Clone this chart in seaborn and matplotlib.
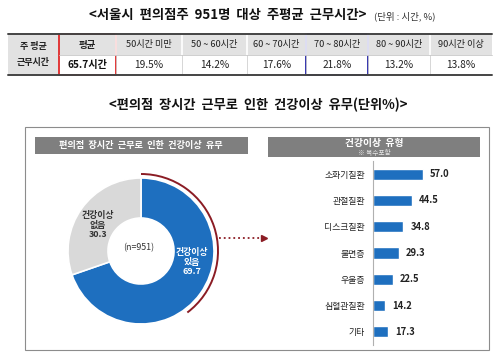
import numpy as np
import pandas as pd
import matplotlib.pyplot as plt
from matplotlib.patches import Rectangle, Arc
import seaborn as sns

# data
time_bins = ['50시간 미만', '50 ~ 60시간', '60 ~ 70시간', '70 ~ 80시간', '80 ~ 90시간', '90시간 이상']
time_shares = [19.5, 14.2, 17.6, 21.8, 13.2, 13.8]
avg_hours = 65.7

health_labels = ['건강이상\n있음', '건강이상\n없음']
health_values = [69.7, 30.3]
n_total = 951

issue_names = ['소화기질환', '관절질환', '디스크질환', '불면증', '우울증', '심혈관질환', '기타']
issue_values = [57.0, 44.5, 34.8, 29.3, 22.5, 14.2, 17.3]

BLUE = '#1e6fbf'
GRAY = '#d9d9d9'
DARKRED = '#8b1c24'
W, H = 499, 360

sns.set_style('white')
plt.rcParams['font.family'] = ['Noto Sans CJK KR', 'DejaVu Sans']


def px(x0, y0, x1, y1):
    return [x0 / W, 1 - y1 / H, (x1 - x0) / W, (y1 - y0) / H]


fig = plt.figure(figsize=(W / 100, H / 100), dpi=100)
bg = fig.add_axes([0, 0, 1, 1])
bg.set_xlim(0, W)
bg.set_ylim(H, 0)
bg.axis('off')

# titles
bg.text(89, 15, '<서울시  편의점주  951명  대상  주평균  근무시간>', fontsize=9.6,
        fontweight='bold', ha='left', va='center', color='#111111')
bg.text(374, 16, '(단위 : 시간, %)', fontsize=6.8, ha='left', va='center', color='#333333')

# table
edges = [8, 59, 116, 182, 247, 306, 368, 430, 492]
top, mid, bot = 34, 55, 75
bg.add_patch(Rectangle((edges[0], top), edges[1] - edges[0], bot - top, color='#e2e2e2', lw=0))
bg.add_patch(Rectangle((edges[1], top), edges[-1] - edges[1], mid - top, color='#e2e2e2', lw=0))
for x in edges[2:-1]:
    bg.plot([x, x], [top, mid], color='white', lw=1.2)
    bg.plot([x, x], [mid, bot], color='#d0d0d0', lw=0.6)
bg.plot([edges[1], edges[-1]], [mid, mid], color='#c8c8c8', lw=0.6)
bg.plot([edges[0], edges[-1]], [top, top], color='#444444', lw=1.4)
bg.plot([edges[0], edges[-1]], [bot, bot], color='#444444', lw=1.4)

bg.text(33, 47, '주 평균', fontsize=6.5, fontweight='bold', ha='center', va='center', color='#222222')
bg.text(33, 62, '근무시간', fontsize=6.5, fontweight='bold', ha='center', va='center', color='#222222')
cx = (edges[1] + edges[2]) / 2
bg.text(cx, 45, '평균', fontsize=6.8, fontweight='bold', ha='center', va='center', color='#222222')
bg.text(cx, 65, f'{avg_hours}시간', fontsize=7.3, fontweight='bold', ha='center', va='center', color='#111111')
for i, (lab, val) in enumerate(zip(time_bins, time_shares)):
    cx = (edges[i + 2] + edges[i + 3]) / 2
    bg.text(cx, 45, lab, fontsize=6.6, ha='center', va='center', color='#222222')
    bg.text(cx, 65, f'{val}%', fontsize=7.3, ha='center', va='center', color='#222222')

bg.add_patch(Rectangle((edges[1], top), edges[2] - edges[1], bot - top, fill=False,
                       edgecolor='#e02828', lw=1.3))
bg.add_patch(Rectangle((edges[5], top), edges[6] - edges[5], bot - top, fill=False,
                       edgecolor='#2424a8', lw=1.3))

# second title
bg.text(258, 105, '<편의점  장시간  근무로  인한  건강이상  유무(단위%)>', fontsize=9.5,
        fontweight='bold', ha='center', va='center', color='#111111')

# panel frame and header bars
bg.add_patch(Rectangle((25, 127), 464, 223, fill=False, edgecolor='#8c8c8c', lw=0.8))
bg.add_patch(Rectangle((35, 137), 213, 17, color='#7f7f7f', lw=0))
bg.text(141, 145.5, '편의점  장시간  근무로  인한  건강이상  유무', fontsize=6.6, fontweight='bold',
        color='white', ha='center', va='center')
bg.add_patch(Rectangle((268, 137), 212, 20, color='#7f7f7f', lw=0))
bg.text(374, 143, '건강이상  유형', fontsize=7, fontweight='bold', color='white', ha='center', va='center')
bg.text(374, 152.5, '※ 복수포함', fontsize=4.8, color='#e8e8e8', ha='center', va='center')

# donut
dc = fig.add_axes(px(141 - 85, 251 - 85, 141 + 85, 251 + 85))
dc.pie(health_values, colors=[BLUE, GRAY], radius=73, startangle=90, counterclock=False,
       wedgeprops=dict(width=40, edgecolor='white', linewidth=1.2), frame=True)
dc.axis('off')
dc.set_aspect('equal')
dc.set_xlim(-85, 85)
dc.set_ylim(-85, 85)
dc.add_patch(Arc((0, 0), 154, 154, theta1=-53, theta2=90, color=DARKRED, lw=1.4))
dc.text(-2, 3, f'(n={n_total})', fontsize=6.4, ha='center', va='center', color='#333333')
dc.text(51, -11, f'{health_labels[0]}\n{health_values[0]}', fontsize=6.4, fontweight='bold',
        color='white', ha='center', va='center', linespacing=1.05)
dc.text(-43, 26, f'{health_labels[1]}\n{health_values[1]}', fontsize=6.4, fontweight='bold',
        color='#333333', ha='center', va='center', linespacing=1.05)

# dotted connector
bg.plot([219, 262], [238, 238], ls=':', color=DARKRED, lw=1.3)
bg.plot([264], [238], marker='>', ms=4, color=DARKRED, lw=0)

# bar chart
df = pd.DataFrame({'issue': issue_names, 'value': issue_values})
ax = fig.add_axes(px(373, 161, 373 + 70, 345))
sns.barplot(data=df, x='value', y='issue', orient='h', color=BLUE, width=0.42,
            saturation=1, ax=ax)
ax.set_xlim(0, 80)
ax.set_xlabel('')
ax.set_ylabel('')
ax.set_xticks([])
ax.tick_params(axis='y', length=0, pad=6, labelsize=6.4, labelcolor='#222222')
for s in ['top', 'right', 'bottom']:
    ax.spines[s].set_visible(False)
ax.spines['left'].set_color('#b0b0b0')
ax.spines['left'].set_linewidth(0.8)
ax.patch.set_alpha(0)
ax.bar_label(ax.containers[0], fmt='%.1f', padding=5, fontsize=6.8, fontweight='bold', color='#222222')

fig.savefig('out.png', dpi=100)
